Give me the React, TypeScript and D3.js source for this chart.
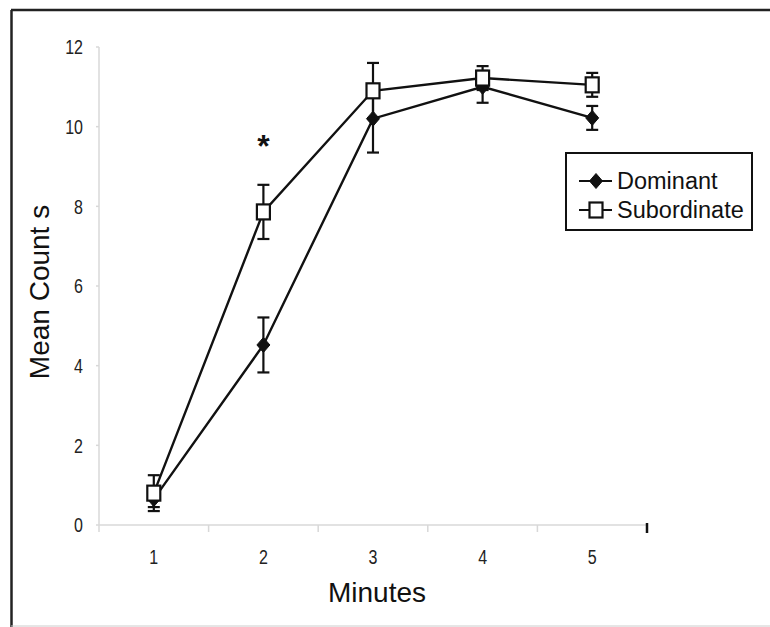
import React from "react";
import * as d3 from "d3";

const minutes = ["1", "2", "3", "4", "5"];
const dominant = [0.65, 4.52, 10.2, 11.0, 10.22];
const dominantErr = [0.2, 0.69, 0.85, 0.4, 0.3];
const subordinate = [0.8, 7.86, 10.9, 11.22, 11.05];
const subordinateErr = [0.45, 0.68, 0.7, 0.3, 0.3];
const yTicks = [0, 2, 4, 6, 8, 10, 12];
const seriesNames = ["Dominant", "Subordinate"];

const W = 770;
const H = 627;

export default function App() {
  const x = d3.scaleBand<string>().domain(minutes).range([99, 647]);
  const y = d3.scaleLinear().domain([0, 12]).range([525, 47]);
  const cx = (m: string) => (x(m) as number) + x.bandwidth() / 2;
  const line = d3
    .line<number>()
    .x((_, i) => cx(minutes[i]))
    .y((v) => y(v));
  const ink = "#111";
  const font = "'Liberation Sans', Arial, sans-serif";
  const bounds = [...minutes.map((m) => x(m) as number), 647];

  const errBars = (vals: number[], errs: number[], key: string) =>
    vals.map((v, i) => {
      const px = cx(minutes[i]);
      const top = y(v + errs[i]);
      const bot = y(v - errs[i]);
      return (
        <g key={key + i} stroke={ink} strokeWidth={2.2}>
          <line x1={px} x2={px} y1={top} y2={bot} />
          <line x1={px - 6} x2={px + 6} y1={top} y2={top} />
          <line x1={px - 6} x2={px + 6} y1={bot} y2={bot} />
        </g>
      );
    });

  const diamond = (px: number, py: number, k: string) => (
    <path
      key={k}
      d={`M${px},${py - 7.5}L${px + 6.5},${py}L${px},${py + 7.5}L${px - 6.5},${py}Z`}
      fill={ink}
      stroke={ink}
      strokeWidth={1}
    />
  );
  const square = (px: number, py: number, k: string) => (
    <rect
      key={k}
      x={px - 6.5}
      y={py - 7.5}
      width={13}
      height={15}
      fill="#fff"
      stroke={ink}
      strokeWidth={2.2}
    />
  );

  return (
    <svg
      width={W}
      height={H}
      style={{ position: "absolute", left: 0, top: 0, background: "#fff" }}
    >
      {/* frame */}
      <line x1={11} x2={W} y1={10} y2={10} stroke="#222" strokeWidth={2.5} />
      <line x1={11.5} x2={11.5} y1={10} y2={H} stroke="#222" strokeWidth={2.5} />
      <line x1={11} x2={W} y1={626} y2={626} stroke="#ccc" strokeWidth={1} />

      {/* y axis */}
      <line x1={99} x2={99} y1={y(12)} y2={y(0)} stroke="#d8d8d8" strokeWidth={1.5} />
      {yTicks.map((t) => (
        <g key={"yt" + t}>
          <line x1={96} x2={99} y1={y(t)} y2={y(t)} stroke="#d8d8d8" strokeWidth={1.5} />
          <text
            transform={`translate(83,${y(t)}) scale(0.8,1)`}
            dy="0.36em"
            textAnchor="end"
            fontFamily={font}
            fontSize={20}
            fill="#222"
          >
            {t}
          </text>
        </g>
      ))}

      {/* x axis */}
      <line x1={99} x2={647} y1={y(0)} y2={y(0)} stroke="#d8d8d8" strokeWidth={1.5} />
      {bounds.map((b, i) =>
        i === bounds.length - 1 ? (
          <line key={"xb" + i} x1={b} x2={b} y1={y(0) - 2} y2={y(0) + 8} stroke="#111" strokeWidth={2.5} />
        ) : (
          <line key={"xb" + i} x1={b} x2={b} y1={y(0)} y2={y(0) + 7} stroke="#d8d8d8" strokeWidth={1.5} />
        )
      )}
      {minutes.map((m) => (
        <text
          key={"xl" + m}
          transform={`translate(${cx(m)},564) scale(0.8,1)`}
          textAnchor="middle"
          fontFamily={font}
          fontSize={20}
          fill="#222"
        >
          {m}
        </text>
      ))}

      {/* axis titles */}
      <text x={377} y={602} textAnchor="middle" fontFamily={font} fontSize={28} fill="#111">
        Minutes
      </text>
      <text
        transform="translate(49,292) rotate(-90)"
        textAnchor="middle"
        fontFamily={font}
        fontSize={28}
        fill="#111"
      >
        Mean Count s
      </text>

      {/* series lines */}
      <path d={line(dominant) || ""} fill="none" stroke={ink} strokeWidth={2.4} />
      <path d={line(subordinate) || ""} fill="none" stroke={ink} strokeWidth={2.4} />

      {/* error bars and markers */}
      {errBars(dominant, dominantErr, "de")}
      {dominant.map((v, i) => diamond(cx(minutes[i]), y(v), "dm" + i))}
      {errBars(subordinate, subordinateErr, "se")}
      {subordinate.map((v, i) => square(cx(minutes[i]), y(v), "sm" + i))}

      {/* significance */}
      <text x={cx("2")} y={157} textAnchor="middle" fontFamily={font} fontSize={32} fontWeight="bold" fill="#111">
        *
      </text>

      {/* legend */}
      <rect x={566} y={153} width={186} height={77} fill="#fff" stroke="#111" strokeWidth={2} />
      {seriesNames.map((n, i) => {
        const ly = 181 + i * 29;
        return (
          <g key={"lg" + n}>
            <line x1={579} x2={612} y1={ly} y2={ly} stroke={ink} strokeWidth={2.2} />
            {i === 0 ? diamond(596, ly, "ld") : square(596, ly, "ls")}
            <text x={617} y={ly} dy="0.35em" fontFamily={font} fontSize={23.5} fill="#111">
              {n}
            </text>
          </g>
        );
      })}
    </svg>
  );
}
